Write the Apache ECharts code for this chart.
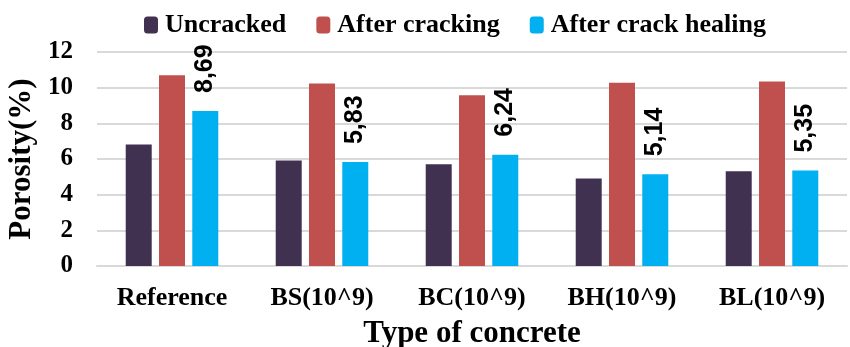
<!DOCTYPE html>
<html>
<head>
<meta charset="utf-8">
<script src="https://cdn.jsdelivr.net/npm/echarts@6/dist/echarts.min.js"></script>
<style>
  html, body { margin: 0; padding: 0; background: #fff; }
  #chart { width: 850px; height: 347px; }
</style>
</head>
<body>
<div id="chart"></div>
<script>
// Porosity of concrete specimens before cracking, after cracking and after healing
const categories = ['Reference', 'BS(10^9)', 'BC(10^9)', 'BH(10^9)', 'BL(10^9)'];
const uncracked = [6.81, 5.91, 5.70, 4.90, 5.31];
const afterCracking = [10.69, 10.23, 9.57, 10.28, 10.34];
const afterHealing = [8.69, 5.83, 6.24, 5.14, 5.35];
const yTicks = [0, 2, 4, 6, 8, 10, 12];

const serif = '"Liberation Serif", "Times New Roman", serif';
const sans = '"Liberation Sans", Arial, sans-serif';

const chart = echarts.init(document.getElementById('chart'), null, { renderer: 'canvas' });

// decimal comma, as written on the healed-state bars
const commaLabel = p => p.value.toFixed(2).replace('.', ',');

chart.setOption({
  animation: false,
  legend: {
    top: 7,
    left: 139,
    itemWidth: 14,
    itemHeight: 17,
    itemGap: 30,
    textStyle: { fontFamily: serif, fontWeight: 'bold', fontSize: 26, color: '#000', padding: [0, 0, 0, 2] },
    data: ['Uncracked', 'After cracking', 'After crack healing']
  },
  grid: { left: 97, right: 3, top: 52, bottom: 81, outerBoundsMode: 'none', containLabel: false },
  xAxis: {
    type: 'category',
    data: categories,
    name: 'Type of concrete',
    nameLocation: 'middle',
    nameGap: 52,
    nameTextStyle: { fontFamily: serif, fontWeight: 'bold', fontSize: 31, color: '#000' },
    axisLine: { lineStyle: { color: '#d9d9d9', width: 2 } },
    axisTick: { show: false },
    axisLabel: { fontFamily: serif, fontWeight: 'bold', fontSize: 26, color: '#000', margin: 19 }
  },
  yAxis: {
    type: 'value',
    min: yTicks[0],
    max: yTicks[yTicks.length - 1],
    interval: 2,
    name: 'Porosity(%)',
    nameLocation: 'middle',
    nameGap: 56,
    nameTextStyle: { fontFamily: serif, fontWeight: 'bold', fontSize: 31, color: '#000' },
    axisLine: { show: false },
    axisTick: { show: false },
    axisLabel: { fontFamily: serif, fontWeight: 'bold', fontSize: 25, color: '#000', margin: 24 },
    splitLine: { lineStyle: { color: '#d9d9d9', width: 2 } }
  },
  series: [
    {
      name: 'Uncracked', type: 'bar', data: uncracked,
      barWidth: 26, barGap: '28%',
      itemStyle: { color: '#403151' }
    },
    {
      name: 'After cracking', type: 'bar', data: afterCracking,
      barWidth: 26, barGap: '28%',
      itemStyle: { color: '#C0504D' }
    },
    {
      name: 'After crack healing', type: 'bar', data: afterHealing,
      barWidth: 26, barGap: '28%',
      itemStyle: { color: '#00B0F0' },
      label: {
        show: true,
        position: 'top',
        rotate: 90,
        align: 'left',
        verticalAlign: 'middle',
        distance: 18,
        formatter: commaLabel,
        fontFamily: sans,
        fontWeight: 'bold',
        fontSize: 25,
        color: '#000'
      }
    }
  ]
});
</script>
</body>
</html>
